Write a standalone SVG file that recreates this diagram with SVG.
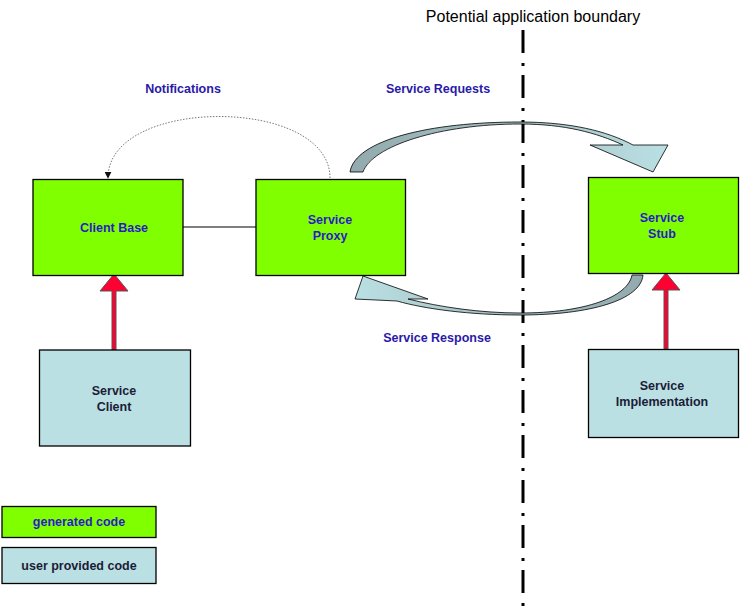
<svg xmlns="http://www.w3.org/2000/svg" width="740" height="606" viewBox="0 0 740 606">
<style>
.gen{fill:#80FF00;stroke:#000;stroke-width:1.3}
.usr{fill:#BAE0E3;stroke:#000;stroke-width:1.3}
.tg{font-family:"Liberation Sans",Arial,sans-serif;font-weight:bold;font-size:12.5px;fill:#2A1AC8;text-anchor:middle}
.tu{font-family:"Liberation Sans",Arial,sans-serif;font-weight:bold;font-size:12.5px;fill:#1C1C38;text-anchor:middle}
.lbl{font-family:"Liberation Sans",Arial,sans-serif;font-weight:bold;font-size:12.5px;fill:#2A1AA8;text-anchor:middle}
.band{stroke:#000;stroke-width:0.8}
.red{fill:#FF0033;stroke:#555;stroke-width:1}
</style>
<defs>
<linearGradient id="gReq" x1="350" y1="0" x2="667" y2="0" gradientUnits="userSpaceOnUse">
<stop offset="0" stop-color="#92AAAE"/><stop offset="0.6" stop-color="#A9C6CA"/><stop offset="1" stop-color="#BAE0E3"/>
</linearGradient>
<linearGradient id="gRes" x1="643" y1="0" x2="355" y2="0" gradientUnits="userSpaceOnUse">
<stop offset="0" stop-color="#92AAAE"/><stop offset="0.6" stop-color="#A9C6CA"/><stop offset="1" stop-color="#BAE0E3"/>
</linearGradient>
<marker id="ah" viewBox="0 0 10 10" refX="9" refY="5" markerWidth="7" markerHeight="7" orient="auto" markerUnits="userSpaceOnUse">
<path d="M0,0 L10,5 L0,10 Z" fill="#111"/>
</marker>
</defs>
<rect width="740" height="606" fill="#fff"/>

<text x="533" y="21.5" font-family="'Liberation Sans',Arial,sans-serif" font-size="16" text-anchor="middle" fill="#000">Potential application boundary</text>
<line x1="523" y1="30" x2="523" y2="606" stroke="#000" stroke-width="3" stroke-dasharray="23 10 3 9"/>

<g id="connectors">
<line x1="183" y1="227" x2="256" y2="227" stroke="#000" stroke-width="1.2"/>
<path d="M330,178 C330,96 108,96 108,178" fill="none" stroke="#777" stroke-width="1" stroke-dasharray="1.5 1.5" marker-end="url(#ah)"/>
<path class="band" fill="url(#gReq)" d="M350,172 C355,140 430,122 520,122 C570,122 607,131 633,145 L668,145 L653,172 L590,145 L623,145 C597,133 565,124 520,124 C440,124 372,146 363,172 Z"/>
<path class="band" fill="url(#gRes)" d="M643,275 C641,300 590,315 520,315 C470,315 425,309 397,301 L355,299 L363,276 L428,299 L408,299 C440,307 480,313 520,313 C585,313 628,297 632,275 Z"/>
<path class="red" d="M112,350 L112,291 L100,291 L114,274 L128,291 L116,291 L116,350 Z"/>
<path class="red" d="M664,349 L664,290 L652,290 L666,273 L680,290 L668,290 L668,349 Z"/>
</g>

<text class="lbl" x="183" y="93">Notifications</text>
<text class="lbl" x="438" y="93">Service Requests</text>
<text class="lbl" x="437" y="342">Service Response</text>

<g id="client-base">
<rect class="gen" x="33" y="179.5" width="150" height="96"/>
<text class="tg" x="114" y="232">Client Base</text>
</g>
<g id="service-proxy">
<rect class="gen" x="256" y="179.5" width="149.5" height="96"/>
<text class="tg" x="330" y="224">Service</text>
<text class="tg" x="330" y="240">Proxy</text>
</g>
<g id="service-stub">
<rect class="gen" x="588.5" y="177.5" width="150" height="96"/>
<text class="tg" x="662" y="222">Service</text>
<text class="tg" x="662" y="238">Stub</text>
</g>
<g id="service-client">
<rect class="usr" x="39.5" y="350" width="151" height="96"/>
<text class="tu" x="114" y="395">Service</text>
<text class="tu" x="114" y="411">Client</text>
</g>
<g id="service-implementation">
<rect class="usr" x="588.5" y="349.5" width="150" height="88"/>
<text class="tu" x="662" y="390">Service</text>
<text class="tu" x="662" y="406">Implementation</text>
</g>
<g id="legend-generated">
<rect class="gen" x="2" y="506.5" width="154" height="31"/>
<text class="tg" x="79" y="526">generated  code</text>
</g>
<g id="legend-user">
<rect class="usr" x="2" y="547.5" width="154" height="36"/>
<text class="tu" x="79" y="570">user provided code</text>
</g>
</svg>
